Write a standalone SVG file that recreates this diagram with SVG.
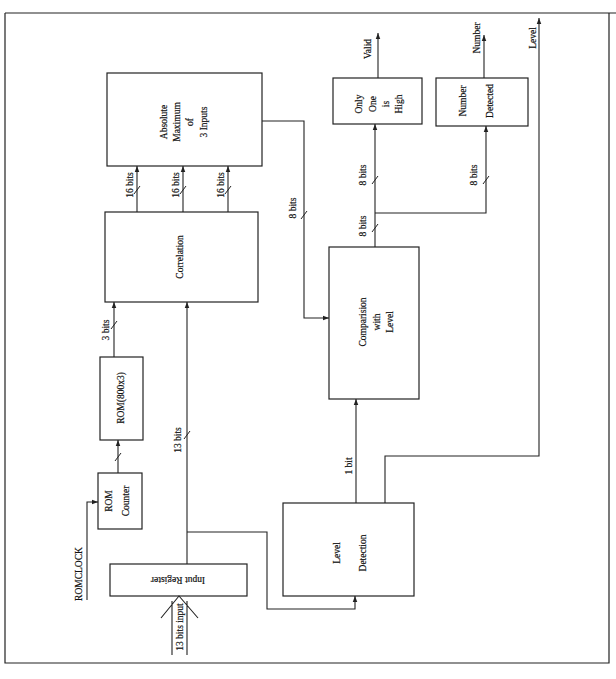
<svg xmlns="http://www.w3.org/2000/svg" width="616" height="679" viewBox="0 0 616 679">
<style>
.b{fill:none;stroke:#222;stroke-width:1.2}
.c{fill:none;stroke:#222;stroke-width:1.1}
.s{fill:none;stroke:#222;stroke-width:1}
text{font-family:"Liberation Serif",serif;font-size:9.5px;fill:#111;stroke:#111;stroke-width:0.2;text-anchor:middle;dominant-baseline:central}
</style>
<defs>
<marker id="a" viewBox="0 0 8 8" refX="8" refY="4" markerWidth="6" markerHeight="6" orient="auto" markerUnits="userSpaceOnUse"><path d="M0,1 L8,4 L0,7z" fill="#222"/></marker>
</defs>
<rect width="616" height="679" fill="#fff"/>
<g id="frame">
<path class="b" d="M5,13 H616 M5,13 V663 H609 V13"/>
</g>
<g id="absmax">
<rect class="b" x="107" y="73" width="155" height="93"/>
<text transform="translate(164,122) rotate(-90)">Absolute</text>
<text transform="translate(177,122) rotate(-90)">Maximum</text>
<text transform="translate(190,122) rotate(-90)">of</text>
<text transform="translate(204,122) rotate(-90)">3 Inputs</text>
</g>
<g id="correlation">
<rect class="b" x="105" y="212" width="153" height="90"/>
<text transform="translate(180,257) rotate(-90)">Correlation</text>
</g>
<g id="rom">
<rect class="b" x="100" y="357" width="43" height="83"/>
<text transform="translate(121,398) rotate(-90)">ROM(800x3)</text>
</g>
<g id="romcounter">
<rect class="b" x="98" y="473" width="44" height="56"/>
<text transform="translate(109,501) rotate(-90)">ROM</text>
<text transform="translate(126,501) rotate(-90)">Counter</text>
</g>
<g id="inputreg">
<rect class="b" x="110" y="564" width="137" height="32"/>
<text transform="translate(178,580) rotate(180)">Input Register</text>
</g>
<g id="leveldet">
<rect class="b" x="283" y="503" width="131" height="93"/>
<text transform="translate(337,553) rotate(-90)">Level</text>
<text transform="translate(363,553) rotate(-90)">Detection</text>
</g>
<g id="comparision">
<rect class="b" x="329" y="247" width="90" height="152"/>
<text transform="translate(363,322) rotate(-90)">Comparision</text>
<text transform="translate(377,322) rotate(-90)">with</text>
<text transform="translate(390,322) rotate(-90)">Level</text>
</g>
<g id="onlyone">
<rect class="b" x="333" y="78" width="89" height="46"/>
<text transform="translate(359,104) rotate(-90)">Only</text>
<text transform="translate(373,104) rotate(-90)">One</text>
<text transform="translate(386,104) rotate(-90)">is</text>
<text transform="translate(399,104) rotate(-90)">High</text>
</g>
<g id="numdet">
<rect class="b" x="436" y="78" width="92" height="48"/>
<text transform="translate(463,101) rotate(-90)">Number</text>
<text transform="translate(490,101) rotate(-90)">Detected</text>
</g>
<g id="connectors">
<path class="c" d="M137,212 V166" marker-end="url(#a)"/>
<path class="c" d="M183,212 V166" marker-end="url(#a)"/>
<path class="c" d="M228,212 V166" marker-end="url(#a)"/>
<path class="s" d="M134,194 L140,186 M180,194 L186,186 M225,194 L231,186"/>
<text transform="translate(130,185) rotate(-90)">16 bits</text>
<text transform="translate(176,185) rotate(-90)">16 bits</text>
<text transform="translate(221,185) rotate(-90)">16 bits</text>
<path class="c" d="M114,357 V302" marker-end="url(#a)"/>
<path class="s" d="M111,329 L117,321"/>
<text transform="translate(106,330) rotate(-90)">3 bits</text>
<path class="c" d="M118,473 V440" marker-end="url(#a)"/>
<path class="s" d="M115,461 L121,453"/>
<path class="c" d="M87,600 V502 H98" marker-end="url(#a)"/>
<text transform="translate(79,574) rotate(-90)">ROMCLOCK</text>
<path class="c" d="M187,564 V302" marker-end="url(#a)"/>
<path class="s" d="M184,439 L190,431"/>
<text transform="translate(178,440) rotate(-90)">13 bits</text>
<path class="c" d="M187,532 H267 V609 H355 V596" marker-end="url(#a)"/>
<path class="c" d="M172,655 V601 M187,655 V601 M161,618 L179,596 L198,618"/>
<text transform="translate(180,627) rotate(-90)">13 bits input</text>
<path class="c" d="M262,121 H304 V318 H329" marker-end="url(#a)"/>
<path class="s" d="M301,219 L307,211"/>
<text transform="translate(293,208) rotate(-90)">8 bits</text>
<path class="c" d="M375,247 V124" marker-end="url(#a)"/>
<path class="c" d="M375,213 H486 V126" marker-end="url(#a)"/>
<path class="s" d="M372,232 L378,224 M372,184 L378,176 M483,184 L489,176"/>
<text transform="translate(363,226) rotate(-90)">8 bits</text>
<text transform="translate(363,175) rotate(-90)">8 bits</text>
<text transform="translate(474,175) rotate(-90)">8 bits</text>
<path class="c" d="M356,503 V399" marker-end="url(#a)"/>
<text transform="translate(349,466) rotate(-90)">1 bit</text>
<path class="c" d="M378,78 V33" marker-end="url(#a)"/>
<text transform="translate(368,49) rotate(-90)">Valid</text>
<path class="c" d="M484,78 V35" marker-end="url(#a)"/>
<text transform="translate(477,38) rotate(-90)">Number</text>
<path class="c" d="M385,503 V456 H539 V18" marker-end="url(#a)"/>
<text transform="translate(533,38) rotate(-90)">Level</text>
</g>
</svg>
